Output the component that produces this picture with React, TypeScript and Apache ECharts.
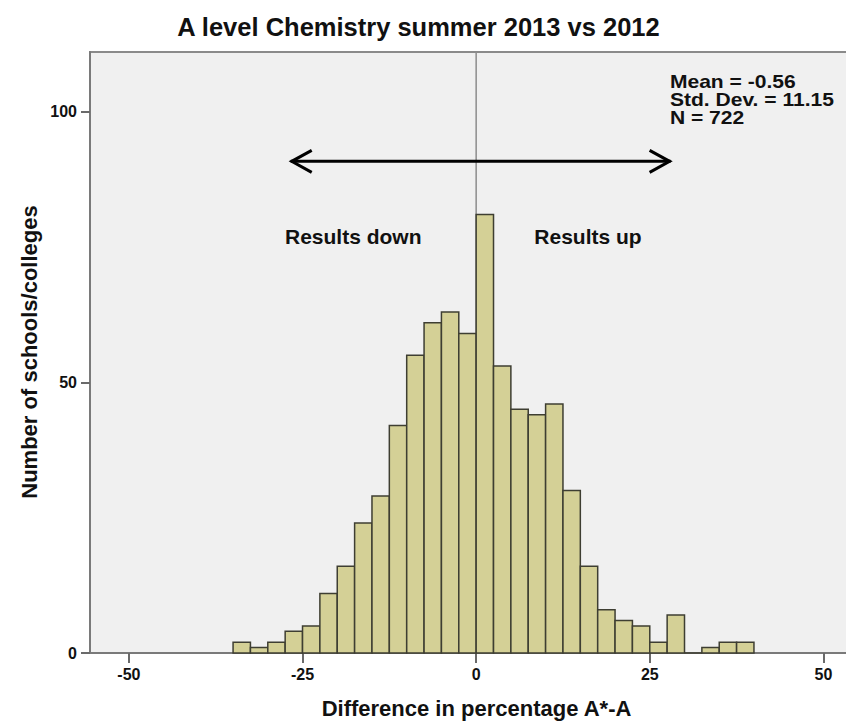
import { useEffect, useRef } from "react";
import * as echarts from "echarts";

// Histogram bins (lower edges) and counts, bin width 2.5
const binLower = [
  -35, -32.5, -30, -27.5, -25, -22.5, -20, -17.5, -15, -12.5, -10, -7.5, -5, -2.5,
  0, 2.5, 5, 7.5, 10, 12.5, 15, 17.5, 20, 22.5, 25, 27.5, 30, 32.5, 35, 37.5,
];
const binWidth = 2.5;
const counts = [
  2, 1, 2, 4, 5, 11, 16, 24, 29, 42, 55, 61, 63, 59,
  81, 53, 45, 44, 46, 30, 16, 8, 6, 5, 2, 7, 0, 1, 2, 2,
];
const xTicks = [-50, -25, 0, 25, 50];
const titleText = "A level Chemistry summer 2013 vs 2012";
const xName = "Difference in percentage A*-A";
const yName = "Number of schools/colleges";
const statsLines = ["Mean = -0.56", "Std. Dev. = 11.15", "N = 722"];
const arrowFrom = -26.7;
const arrowTo = 28;
const arrowY = 90.8;
const labelDown = { text: "Results down", x: -17.7, y: 76.9 };
const labelUp = { text: "Results up", x: 16.1, y: 76.9 };
const statsAnchor = { x: 27.9, y: 107.2 };

const FONT = "'Liberation Sans', Arial, Helvetica, sans-serif";

export default function App() {
  const ref = useRef<HTMLDivElement>(null);
  useEffect(() => {
    if (!ref.current) return;
    const chart = echarts.init(ref.current, undefined, { renderer: "svg" });
    const data = binLower.map((lo, i) => [lo, lo + binWidth, counts[i]]);
    chart.setOption({
      animation: false,
      backgroundColor: "#ffffff",
      grid: {
        left: 90,
        top: 52,
        bottom: 69,
        right: 3,
        show: true,
        backgroundColor: "#f0f0f0",
        borderColor: "#8a8a8a",
        borderWidth: 2,
      },
      xAxis: {
        type: "value",
        min: -55.6,
        max: 55.7,
        splitLine: { show: false },
        axisLine: { show: true, onZero: false, lineStyle: { color: "#7a7a7a", width: 2 } },
        axisTick: {
          show: true,
          length: 10,
          customValues: xTicks,
          lineStyle: { color: "#6a6a6a", width: 2 },
        },
        axisLabel: {
          customValues: xTicks,
          margin: 13,
          color: "#111",
          fontFamily: FONT,
          fontWeight: "bold",
          fontSize: 16,
        },
      },
      yAxis: {
        type: "value",
        min: 0,
        max: 111,
        interval: 50,
        splitLine: { show: false },
        axisLine: { show: true, onZero: false, lineStyle: { color: "#7a7a7a", width: 2 } },
        axisTick: { show: true, length: 9, lineStyle: { color: "#6a6a6a", width: 2 } },
        axisLabel: {
          margin: 13,
          color: "#111",
          fontFamily: FONT,
          fontWeight: "bold",
          fontSize: 16,
          showMaxLabel: false,
        },
      },
      series: [
        {
          type: "line",
          data: [
            [0, 0],
            [0, 111],
          ],
          symbol: "none",
          lineStyle: { color: "#8c8c8c", width: 1.5 },
          z: 1,
          silent: true,
        },
        {
          type: "custom",
          z: 2,
          data,
          encode: { x: [0, 1], y: 2 },
          renderItem: (params: any, api: any) => {
            const p0 = api.coord([api.value(0), api.value(2)]);
            const p1 = api.coord([api.value(1), 0]);
            return {
              type: "rect",
              shape: { x: p0[0], y: p0[1], width: p1[0] - p0[0], height: p1[1] - p0[1] },
              style: { fill: "#d4d096", stroke: "#3e3e32", lineWidth: 1.5 },
            };
          },
        },
      ],
    });

    const px = (x: number, y: number) => chart.convertToPixel({ gridIndex: 0 }, [x, y]) as number[];
    const a0 = px(arrowFrom, arrowY);
    const a1 = px(arrowTo, arrowY);
    const dn = px(labelDown.x, labelDown.y);
    const up = px(labelUp.x, labelUp.y);
    const st = px(statsAnchor.x, statsAnchor.y);
    const head = 21;
    const half = 11;
    const arrowStyle = { stroke: "#000", lineWidth: 3, fill: "none" };
    chart.setOption({
      graphic: [
        {
          type: "text",
          x: 418.5,
          y: 27,
          style: {
            text: titleText,
            fontFamily: FONT,
            fontWeight: "bold",
            fontSize: 25.5,
            fill: "#111",
            align: "center",
            verticalAlign: "middle",
          },
        },
        {
          type: "text",
          x: 476.5,
          y: 708,
          style: {
            text: xName,
            fontFamily: FONT,
            fontWeight: "bold",
            fontSize: 22,
            fill: "#111",
            align: "center",
            verticalAlign: "middle",
          },
        },
        {
          type: "text",
          x: 29,
          y: 352,
          rotation: Math.PI / 2,
          style: {
            text: yName,
            fontFamily: FONT,
            fontWeight: "bold",
            fontSize: 22,
            fill: "#111",
            align: "center",
            verticalAlign: "middle",
          },
        },
        {
          type: "line",
          shape: { x1: a0[0], y1: a0[1], x2: a1[0], y2: a1[1] },
          style: arrowStyle,
          z: 10,
        },
        {
          type: "polyline",
          shape: {
            points: [
              [a0[0] + head, a0[1] - half],
              [a0[0] + 1, a0[1]],
              [a0[0] + head, a0[1] + half],
            ],
          },
          style: arrowStyle,
          z: 10,
        },
        {
          type: "polyline",
          shape: {
            points: [
              [a1[0] - head, a1[1] - half],
              [a1[0] - 1, a1[1]],
              [a1[0] - head, a1[1] + half],
            ],
          },
          style: arrowStyle,
          z: 10,
        },
        {
          type: "text",
          x: dn[0],
          y: dn[1],
          z: 10,
          style: {
            text: labelDown.text,
            fontFamily: FONT,
            fontWeight: "bold",
            fontSize: 21,
            fill: "#111",
            align: "center",
            verticalAlign: "middle",
          },
        },
        {
          type: "text",
          x: up[0],
          y: up[1],
          z: 10,
          style: {
            text: labelUp.text,
            fontFamily: FONT,
            fontWeight: "bold",
            fontSize: 21,
            fill: "#111",
            align: "center",
            verticalAlign: "middle",
          },
        },
        {
          type: "text",
          x: st[0],
          y: st[1],
          z: 10,
          scaleX: 1.17,
          style: {
            text: statsLines.join("\n"),
            fontFamily: FONT,
            fontWeight: "bold",
            fontSize: 18,
            lineHeight: 18,
            fill: "#111",
            align: "left",
            verticalAlign: "top",
          },
        },
      ],
    });
    return () => chart.dispose();
  }, []);
  return (
    <div
      ref={ref}
      style={{ position: "fixed", left: 0, top: 0, width: 866, height: 722 }}
    />
  );
}
